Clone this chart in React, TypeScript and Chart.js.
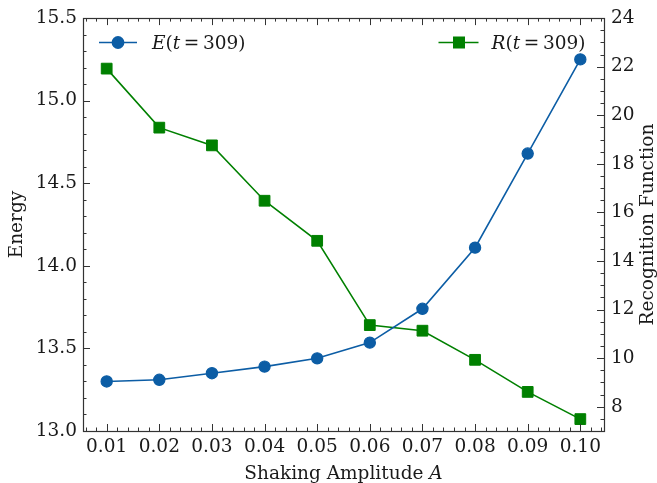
import React, { useEffect, useRef } from "react";
import { Chart, registerables } from "chart.js";

Chart.register(...registerables);

// ---- data ----
const amplitudes = [0.01, 0.02, 0.03, 0.04, 0.05, 0.06, 0.07, 0.08, 0.09, 0.1];
const energy = [13.3, 13.31, 13.35, 13.39, 13.44, 13.535, 13.74, 14.11, 14.68, 15.25];
const recognition = [21.92, 19.49, 18.76, 16.48, 14.83, 11.36, 11.13, 9.93, 8.61, 7.49];
const xTickValues = [0.01, 0.02, 0.03, 0.04, 0.05, 0.06, 0.07, 0.08, 0.09, 0.1];
const energyTickValues = [13.0, 13.5, 14.0, 14.5, 15.0, 15.5];
const recogTickValues = [8, 10, 12, 14, 16, 18, 20, 22, 24];

const BLUE = "#0C5DA5";
const GREEN = "#008000";
const FONT = "DejaVu Serif";
const FS = 18.5;
const TEXT = "#1a1a1a";
const SPINE = "#333333";

function minorValues(min: number, max: number, step: number) {
  const out: number[] = [];
  const n = Math.round((max - min) / step);
  for (let i = 0; i <= n; i++) out.push(min + i * step);
  return out;
}

const decorPlugin = {
  id: "decor",
  afterDraw(chart: any) {
    const { ctx, chartArea, scales } = chart;
    const { left, right, top, bottom } = chartArea;
    const x = scales.x;
    const y = scales.y;
    const y2 = scales.y2;
    ctx.save();
    ctx.strokeStyle = SPINE;
    ctx.lineWidth = 1;
    const MAJ = 7;
    const MIN = 3.5;
    const line = (x1: number, y1: number, x2: number, y2_: number) => {
      ctx.beginPath();
      ctx.moveTo(x1, y1);
      ctx.lineTo(x2, y2_);
      ctx.stroke();
    };
    // x ticks (bottom and top)
    minorValues(0.006, 0.104, 0.002).forEach((v) => {
      const px = Math.round(x.getPixelForValue(v)) + 0.5;
      if (px < left || px > right) return;
      line(px, bottom, px, bottom - MIN);
      line(px, top, px, top + MIN);
    });
    xTickValues.forEach((v) => {
      const px = Math.round(x.getPixelForValue(v)) + 0.5;
      line(px, bottom, px, bottom - MAJ);
      line(px, top, px, top + MAJ);
    });
    // left y ticks
    minorValues(13.0, 15.5, 0.1).forEach((v) => {
      const py = Math.round(y.getPixelForValue(v)) + 0.5;
      line(left, py, left + MIN, py);
    });
    energyTickValues.forEach((v) => {
      const py = Math.round(y.getPixelForValue(v)) + 0.5;
      line(left, py, left + MAJ, py);
    });
    // right y ticks
    minorValues(7, 24, 0.5).forEach((v) => {
      const py = Math.round(y2.getPixelForValue(v)) + 0.5;
      line(right, py, right - MIN, py);
    });
    recogTickValues.forEach((v) => {
      const py = Math.round(y2.getPixelForValue(v)) + 0.5;
      line(right, py, right - MAJ, py);
    });
    // spines
    ctx.lineWidth = 1.2;
    ctx.strokeRect(Math.round(left) + 0.5, Math.round(top) + 0.5, Math.round(right - left), Math.round(bottom - top));

    // axis titles
    ctx.fillStyle = TEXT;
    ctx.textBaseline = "alphabetic";
    ctx.font = `${FS}px "${FONT}"`;
    const midY = (top + bottom) / 2;
    ctx.save();
    ctx.translate(22, midY);
    ctx.rotate(-Math.PI / 2);
    ctx.textAlign = "center";
    ctx.fillText("Energy", 0, 0);
    ctx.restore();
    ctx.save();
    ctx.translate(652.5, midY);
    ctx.rotate(-Math.PI / 2);
    ctx.textAlign = "center";
    ctx.fillText("Recognition Function", 0, 0);
    ctx.restore();

    // mixed-style text helper
    const drawMixed = (parts: [string, boolean][], startX: number, baseY: number, center: boolean) => {
      const widths = parts.map(([s, it]) => {
        ctx.font = `${it ? "italic " : ""}${FS}px "${FONT}"`;
        return ctx.measureText(s).width;
      });
      const total = widths.reduce((a, b) => a + b, 0);
      let cx = center ? startX - total / 2 : startX;
      ctx.textAlign = "left";
      parts.forEach(([s, it], i) => {
        ctx.font = `${it ? "italic " : ""}${FS}px "${FONT}"`;
        ctx.fillText(s, cx, baseY);
        cx += widths[i];
      });
    };
    drawMixed([["Shaking Amplitude ", false], ["A", true]], (left + right) / 2, 478.5, true);

    // legend
    ctx.lineWidth = 1.5;
    ctx.strokeStyle = BLUE;
    line(99, 42.5, 137, 42.5);
    ctx.fillStyle = BLUE;
    ctx.beginPath();
    ctx.arc(118, 42.5, 6.4, 0, Math.PI * 2);
    ctx.fill();
    ctx.fillStyle = TEXT;
    drawMixed([["E", true], ["(", false], ["t", true], ["\u2009=\u2009309)", false]], 152, 48.5, false);

    ctx.strokeStyle = GREEN;
    line(438.5, 42.5, 478.5, 42.5);
    ctx.fillStyle = GREEN;
    ctx.fillRect(459 - 6, 42.5 - 6, 12, 12);
    ctx.fillStyle = TEXT;
    drawMixed([["R", true], ["(", false], ["t", true], ["\u2009=\u2009309)", false]], 491.5, 48.5, false);
    ctx.restore();
  },
};

export default function App() {
  const ref = useRef<HTMLCanvasElement | null>(null);
  useEffect(() => {
    if (!ref.current) return;
    const tickFont = { family: FONT, size: FS };
    const chart = new Chart(ref.current, {
      type: "line",
      data: {
        datasets: [
          {
            label: "E(t = 309)",
            data: amplitudes.map((a, i) => ({ x: a, y: energy[i] })),
            yAxisID: "y",
            borderColor: BLUE,
            backgroundColor: BLUE,
            borderWidth: 1.6,
            pointStyle: "circle",
            pointRadius: 5.6,
            pointBorderWidth: 1.2,
            pointBorderColor: BLUE,
            pointBackgroundColor: BLUE,
            tension: 0,
          },
          {
            label: "R(t = 309)",
            data: amplitudes.map((a, i) => ({ x: a, y: recognition[i] })),
            yAxisID: "y2",
            borderColor: GREEN,
            backgroundColor: GREEN,
            borderWidth: 1.6,
            pointStyle: "rect",
            pointRadius: 7.6,
            pointBorderWidth: 1,
            pointBorderColor: GREEN,
            pointBackgroundColor: GREEN,
            tension: 0,
          },
        ],
      },
      options: {
        responsive: false,
        animation: false,
        events: [],
        layout: { padding: { top: 15, left: 0, right: 0, bottom: 0 }, autoPadding: false },
        plugins: { legend: { display: false }, tooltip: { enabled: false }, title: { display: false } },
        scales: {
          x: {
            type: "linear",
            position: "bottom",
            min: 0.0055,
            max: 0.1045,
            grid: { display: false, drawTicks: false },
            border: { display: false },
            afterBuildTicks: (s: any) => {
              s.ticks = xTickValues.map((v) => ({ value: v }));
            },
            afterFit: (s: any) => {
              s.height = 52;
            },
            ticks: {
              font: tickFont,
              color: TEXT,
              padding: 5,
              maxRotation: 0,
              autoSkip: false,
              callback: (v: any) => Number(v).toFixed(2),
            },
          },
          y: {
            type: "linear",
            position: "left",
            min: 13,
            max: 15.5,
            grid: { display: false, drawTicks: false },
            border: { display: false },
            afterBuildTicks: (s: any) => {
              s.ticks = energyTickValues.map((v) => ({ value: v }));
            },
            afterFit: (s: any) => {
              s.width = 83;
            },
            ticks: {
              font: tickFont,
              color: TEXT,
              padding: 6,
              autoSkip: false,
              callback: (v: any) => Number(v).toFixed(1),
            },
          },
          y2: {
            type: "linear",
            position: "right",
            min: 7,
            max: 24,
            grid: { display: false, drawTicks: false },
            border: { display: false },
            afterBuildTicks: (s: any) => {
              s.ticks = recogTickValues.map((v) => ({ value: v }));
            },
            afterFit: (s: any) => {
              s.width = 53;
            },
            ticks: {
              font: tickFont,
              color: TEXT,
              padding: 7,
              autoSkip: false,
              callback: (v: any) => String(v),
            },
          },
        },
      } as any,
      plugins: [decorPlugin],
    });
    return () => chart.destroy();
  }, []);
  return (
    <div style={{ position: "fixed", left: 0, top: 0, width: 657, height: 483, background: "#fff" }}>
      <canvas ref={ref} width={657} height={483} style={{ width: 657, height: 483, display: "block" }} />
    </div>
  );
}
